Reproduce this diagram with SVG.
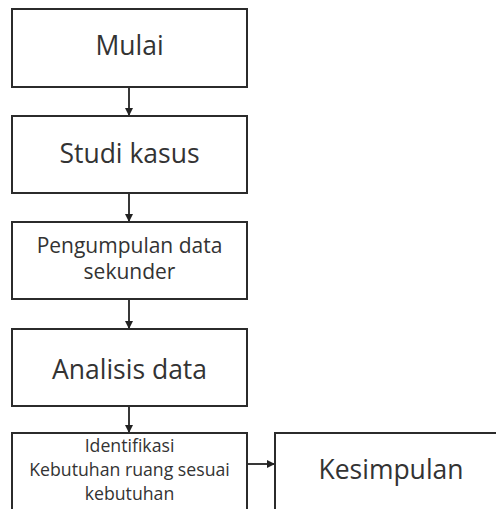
<svg xmlns="http://www.w3.org/2000/svg" width="496" height="509" viewBox="0 0 496 509">
<defs>
<marker id="ah" viewBox="0 0 10 10" refX="10" refY="5" markerWidth="8" markerHeight="8" markerUnits="userSpaceOnUse" orient="auto">
<path d="M0,0 L10,5 L0,10 z" fill="#222"/>
</marker>
<style>
.box{fill:#fff;stroke:#2b2b2b;stroke-width:2}
.t{font-family:"Open Sans","Noto Sans",sans-serif;fill:#333;text-anchor:middle}
.big{font-size:26.5px}
.mid{font-size:21px}
.sm{font-size:17.7px}
.c{stroke:#222;stroke-width:1.8;fill:none;marker-end:url(#ah)}
</style>
</defs>
<rect width="496" height="509" fill="#fff"/>
<g id="connectors">
<line class="c" x1="129" y1="87" x2="129" y2="116"/>
<line class="c" x1="129" y1="193" x2="129" y2="222"/>
<line class="c" x1="129" y1="299" x2="129" y2="329"/>
<line class="c" x1="129" y1="406" x2="129" y2="433"/>
<line class="c" x1="247" y1="464" x2="275" y2="464"/>
</g>
<g id="mulai">
<rect class="box" x="12" y="9" width="235" height="78"/>
<text class="t big" x="129.5" y="55">Mulai</text>
</g>
<g id="studi">
<rect class="box" x="12" y="116" width="235" height="77"/>
<text class="t big" x="129.5" y="163">Studi kasus</text>
</g>
<g id="pengumpulan">
<rect class="box" x="12" y="222" width="235" height="77"/>
<text class="t mid" x="129.5" y="253">Pengumpulan data</text>
<text class="t mid" x="129.5" y="279">sekunder</text>
</g>
<g id="analisis">
<rect class="box" x="12" y="329" width="235" height="77"/>
<text class="t big" x="129.5" y="379">Analisis data</text>
</g>
<g id="identifikasi">
<rect class="box" x="12" y="433" width="235" height="90"/>
<text class="t sm" x="129.5" y="452">Identifikasi</text>
<text class="t sm" x="129.5" y="476">Kebutuhan ruang sesuai</text>
<text class="t sm" x="129.5" y="500">kebutuhan</text>
</g>
<g id="kesimpulan">
<rect class="box" x="275" y="433" width="235" height="90"/>
<text class="t big" x="391" y="479">Kesimpulan</text>
</g>
</svg>
